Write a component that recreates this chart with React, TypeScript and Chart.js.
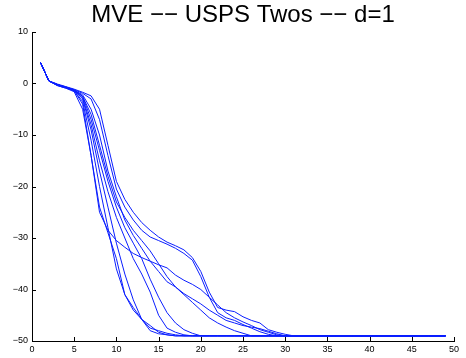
import { useEffect, useRef } from "react";
import { Chart, registerables } from "chart.js";

Chart.register(...registerables);

const chartTitle = "MVE \u2212\u2212 USPS Twos \u2212\u2212 d=1";

const iterations = [
  1, 2, 3, 4, 5, 6, 7, 8, 9, 10, 11, 12, 13, 14, 15, 16, 17, 18, 19, 20,
  21, 22, 23, 24, 25, 26, 27, 28, 29, 30, 31, 32, 33, 34, 35, 36, 37, 38, 39, 40,
  41, 42, 43, 44, 45, 46, 47, 48, 49,
];

const xTicks = [0, 5, 10, 15, 20, 25, 30, 35, 40, 45, 50];
const yTicks = [-50, -40, -30, -20, -10, 0, 10];

const runA = [
  4.1, 0.5, -0.4, -0.9, -1.6, -5, -14, -24, -29, -34,
  -41, -43.5, -45.8, -48, -48.6, -48.8, -49, -49, -49, -49,
  -49, -49, -49, -49, -49, -49, -49, -49, -49, -49,
  -49, -49, -49, -49, -49, -49, -49, -49, -49, -49,
  -49, -49, -49, -49, -49, -49, -49, -49, -49,
];
const runB = [
  4.1, 0.5, -0.3, -0.8, -1.4, -3.5, -11, -20, -28, -36,
  -41, -44, -45.8, -47, -48.3, -48.8, -49, -49, -49, -49,
  -49, -49, -49, -49, -49, -49, -49, -49, -49, -49,
  -49, -49, -49, -49, -49, -49, -49, -49, -49, -49,
  -49, -49, -49, -49, -49, -49, -49, -49, -49,
];
const runC = [
  4.1, 0.5, -0.3, -0.8, -1.3, -3, -9, -17, -24, -31,
  -37, -42, -45.8, -47.5, -48, -48.5, -48.8, -49, -49, -49,
  -49, -49, -49, -49, -49, -49, -49, -49, -49, -49,
  -49, -49, -49, -49, -49, -49, -49, -49, -49, -49,
  -49, -49, -49, -49, -49, -49, -49, -49, -49,
];
const runD = [
  4.1, 0.5, -0.2, -0.7, -1.3, -2.8, -8, -15, -21, -26,
  -30, -34, -37, -40.5, -45, -47.5, -48.3, -48.8, -49, -49,
  -49, -49, -49, -49, -49, -49, -49, -49, -49, -49,
  -49, -49, -49, -49, -49, -49, -49, -49, -49, -49,
  -49, -49, -49, -49, -49, -49, -49, -49, -49,
];
const runE = [
  4.1, 0.5, -0.2, -0.7, -1.2, -2.5, -7, -13, -19, -24,
  -28, -31, -34, -38, -41.5, -44.5, -46.5, -47.8, -48.5, -49,
  -49, -49, -49, -49, -49, -49, -49, -49, -49, -49,
  -49, -49, -49, -49, -49, -49, -49, -49, -49, -49,
  -49, -49, -49, -49, -49, -49, -49, -49, -49,
];
const runG = [
  4.1, 0.5, -0.3, -0.8, -1.3, -2.5, -6, -12, -18, -23,
  -26, -28.5, -30.5, -32.5, -35, -37.5, -39.5, -41, -42.5, -44,
  -45.5, -46.5, -47.3, -48, -48.5, -49, -49, -49, -49, -49,
  -49, -49, -49, -49, -49, -49, -49, -49, -49, -49,
  -49, -49, -49, -49, -49, -49, -49, -49, -49,
];
const runH = [
  4.1, 0.5, -0.2, -0.7, -1.3, -2.2, -5, -10, -17, -22,
  -26.5, -29.5, -32, -34.5, -36.5, -38.5, -39.5, -40.8, -41.8, -42.8,
  -44, -45, -46, -46.5, -47, -47.3, -47.6, -48.1, -48.6, -49,
  -49, -49, -49, -49, -49, -49, -49, -49, -49, -49,
  -49, -49, -49, -49, -49, -49, -49, -49, -49,
];
const runI = [
  4.1, 0.5, -0.4, -0.9, -1.4, -4, -14, -25, -28.5, -30.5,
  -31.8, -33, -33.8, -34.5, -35.2, -35.8, -37.2, -38.2, -39, -40,
  -41.5, -43, -44.5, -45.5, -46.3, -47, -47.8, -48.3, -48.8, -49,
  -49, -49, -49, -49, -49, -49, -49, -49, -49, -49,
  -49, -49, -49, -49, -49, -49, -49, -49, -49,
];
const runJ = [
  4.1, 0.5, -0.1, -0.6, -1.1, -1.7, -2.4, -5, -12, -19,
  -22.5, -25, -27, -28.5, -29.8, -30.8, -31.5, -32.3, -33.8, -36.5,
  -40.5, -43.5, -44, -44.3, -45.3, -46, -46.5, -47.8, -48.3, -48.7,
  -49, -49, -49, -49, -49, -49, -49, -49, -49, -49,
  -49, -49, -49, -49, -49, -49, -49, -49, -49,
];
const runK = [
  4.1, 0.5, -0.2, -0.7, -1.2, -1.9, -3, -7, -14, -20.5,
  -24, -26.5, -28.5, -29.8, -30.5, -31.2, -32, -33, -34.3, -37.5,
  -41.5, -44.5, -45.5, -46, -46.8, -47.5, -48.2, -48.7, -49, -49,
  -49, -49, -49, -49, -49, -49, -49, -49, -49, -49,
  -49, -49, -49, -49, -49, -49, -49, -49, -49,
];

const runs = [runA, runB, runC, runD, runE, runG, runH, runI, runJ, runK];

const FONT = "'Liberation Sans', Arial, Helvetica, sans-serif";

const fmt = (v: number | string) => String(v).replace("-", "\u2212");

const axesDecor = {
  id: "axesDecor",
  afterDraw(chart: any) {
    const { ctx, chartArea, scales } = chart;
    ctx.save();
    ctx.strokeStyle = "#000";
    ctx.lineWidth = 1;
    ctx.beginPath();
    for (const v of xTicks) {
      const px = Math.round(scales.x.getPixelForValue(v)) + 0.5;
      ctx.moveTo(px, chartArea.bottom);
      ctx.lineTo(px, chartArea.bottom - 4);
    }
    for (const v of yTicks) {
      const py = Math.round(scales.y.getPixelForValue(v)) + 0.5;
      ctx.moveTo(chartArea.left, py);
      ctx.lineTo(chartArea.left + 4, py);
    }
    ctx.stroke();
    // title centred over the axes
    ctx.fillStyle = "#000";
    ctx.font = "24px " + FONT;
    ctx.textAlign = "center";
    ctx.textBaseline = "alphabetic";
    ctx.fillText(chartTitle, (chartArea.left + chartArea.right) / 2, 21.5);
    ctx.restore();
  },
};

export default function App() {
  const ref = useRef<HTMLCanvasElement | null>(null);

  useEffect(() => {
    if (!ref.current) return;
    const chart = new Chart(ref.current, {
      type: "line",
      data: {
        datasets: runs.map((run, i) => ({
          label: "run " + (i + 1),
          data: iterations.map((it, k) => ({ x: it, y: run[k] })),
          borderColor: "#0a1eff",
          borderWidth: 1,
          pointRadius: 0,
          tension: 0,
          fill: false,
        })),
      },
      options: {
        animation: false,
        responsive: false,
        maintainAspectRatio: false,
        events: [],
        layout: { padding: { left: 0, right: 12, top: 32, bottom: 0 } },
        plugins: {
          legend: { display: false },
          tooltip: { enabled: false },
          title: { display: false },
        },
        scales: {
          x: {
            type: "linear",
            min: 0,
            max: 50,
            afterFit: (s: any) => {
              s.height = 17;
            },
            afterBuildTicks: (s: any) => {
              s.ticks = xTicks.map((v) => ({ value: v }));
            },
            ticks: {
              color: "#000",
              font: { family: FONT, size: 9 },
              padding: 3,
              maxRotation: 0,
              autoSkip: false,
              callback: (v: any) => fmt(v),
            },
            grid: { display: false, drawTicks: false },
            border: { display: true, color: "#000", width: 1 },
          },
          y: {
            type: "linear",
            min: -50,
            max: 10,
            afterFit: (s: any) => {
              s.width = 32;
            },
            afterBuildTicks: (s: any) => {
              s.ticks = yTicks.map((v) => ({ value: v }));
            },
            ticks: {
              color: "#000",
              font: { family: FONT, size: 9 },
              padding: 4,
              autoSkip: false,
              callback: (v: any) => fmt(v),
            },
            grid: { display: false, drawTicks: false },
            border: { display: true, color: "#000", width: 1 },
          },
        },
      },
      plugins: [axesDecor],
    });
    return () => chart.destroy();
  }, []);

  return (
    <div style={{ position: "fixed", left: 0, top: 0, width: 466, height: 358, background: "#fff" }}>
      <canvas ref={ref} width={466} height={358} style={{ display: "block", width: 466, height: 358 }} />
    </div>
  );
}
